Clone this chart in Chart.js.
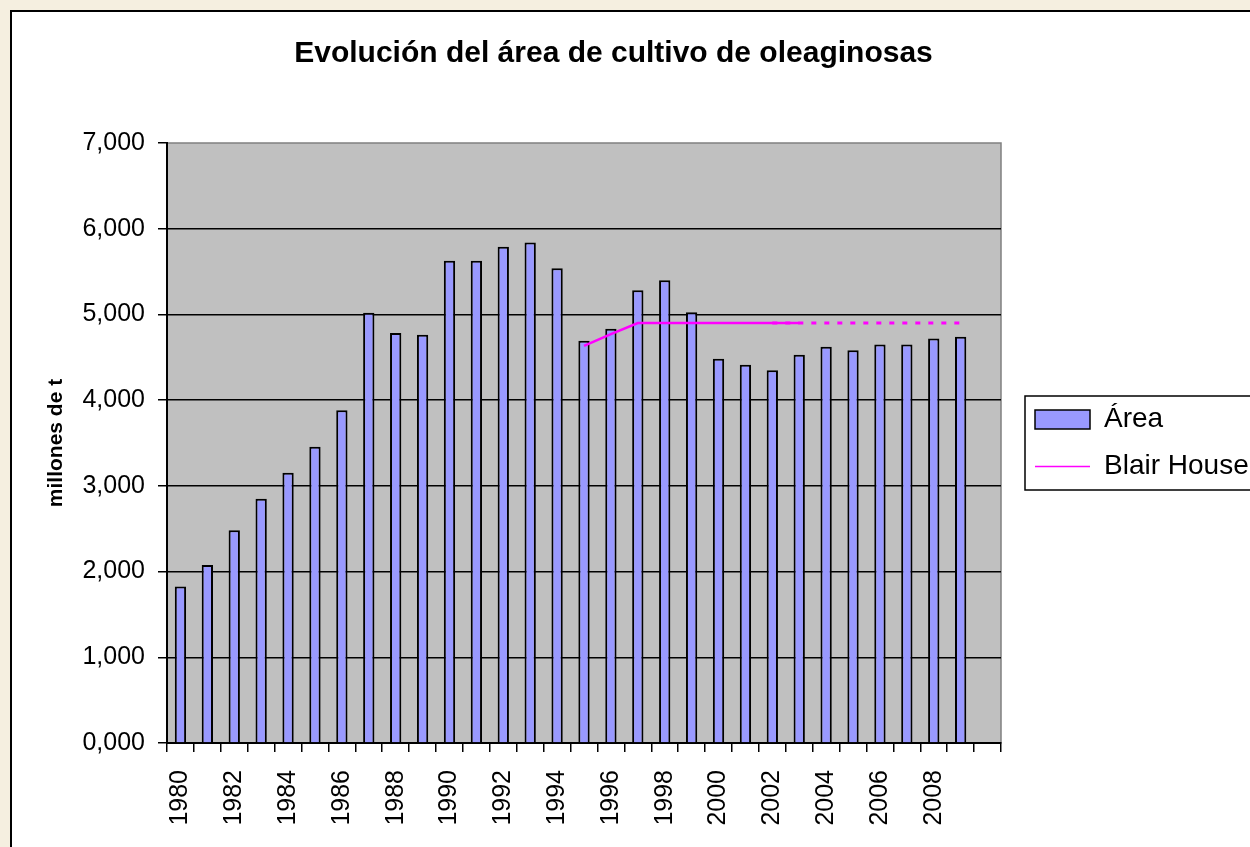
<!DOCTYPE html>
<html>
<head>
<meta charset="utf-8">
<script src="https://cdn.jsdelivr.net/npm/chart.js@4.4.0/dist/chart.umd.min.js"></script>
<style>
html,body{margin:0;padding:0;width:1250px;height:847px;overflow:hidden;background:#F5EFE0;}
#box{position:absolute;left:10px;top:10px;width:1300px;height:900px;background:#fff;border-left:2px solid #000;border-top:2px solid #000;}
#c{position:absolute;left:0;top:0;}
</style>
</head>
<body>
<div id="box"></div>
<canvas id="c" width="1300" height="847"></canvas>
<script>
// ---- data ----
const years = ['1980','1981','1982','1983','1984','1985','1986','1987','1988','1989',
               '1990','1991','1992','1993','1994','1995','1996','1997','1998','1999',
               '2000','2001','2002','2003','2004','2005','2006','2007','2008','2009',''];
const areaValues = [1.825, 2.077, 2.481, 2.851, 3.154, 3.457, 3.881, 5.021, 4.784, 4.764,
                    5.627, 5.627, 5.791, 5.838, 5.538, 4.694, 4.834, 5.282, 5.398, 5.025,
                    4.484, 4.414, 4.348, 4.531, 4.624, 4.582, 4.648, 4.648, 4.718, 4.741, null];
const blairSolid = [null, null, null, null, null, null, null, null, null, null,
                    null, null, null, null, null, 4.632, 4.770, 4.900, 4.900, 4.900,
                    4.900, 4.900, 4.900, 4.900, null, null, null, null, null, null, null];
const blairDotted = [null, null, null, null, null, null, null, null, null, null,
                     null, null, null, null, null, null, null, null, null, null,
                     null, null, 4.900, 4.900, 4.900, 4.900, 4.900, 4.900, 4.900, 4.900, null];
const yTickLabels = ['0,000','1,000','2,000','3,000','4,000','5,000','6,000','7,000'];

const FONT = "'Liberation Sans', Arial, Helvetica, sans-serif";
const LEGEND_W = 226;
const LEGEND_SHIFT = 15;

const framePlugin = {
  id: 'framePlugin',
  beforeLayout(chart) {
    const lg = chart.legend;
    if (lg && !lg._fixedW) {
      const f = lg.fit;
      lg.fit = function () { f.apply(this, arguments); this.width = LEGEND_W; };
      lg._fixedW = true;
    }
  },
  afterLayout(chart) {
    const lg = chart.legend;
    if (lg) { lg.left += LEGEND_SHIFT; lg.right = chart.width; }
  },
  beforeDraw(chart) {
    const {ctx, chartArea: a} = chart;
    ctx.save();
    ctx.fillStyle = '#C0C0C0';
    ctx.fillRect(a.left, a.top, a.right - a.left, a.bottom - a.top);
    ctx.strokeStyle = '#808080';
    ctx.lineWidth = 1.5;
    ctx.strokeRect(a.left, a.top, a.right - a.left, a.bottom - a.top);
    ctx.restore();
  },
  afterDraw(chart) {
    const lg = chart.legend;
    if (!lg || !lg.columnSizes || !lg.columnSizes.length) return;
    const ctx = chart.ctx;
    const pad = lg.options.labels.padding;
    const colH = lg.columnSizes[0].height;
    const y0 = (lg.top + pad + lg.bottom - colH) / 2;
    const x0 = lg.left + pad;
    ctx.save();
    ctx.strokeStyle = '#000';
    ctx.lineWidth = 1.5;
    ctx.strokeRect(x0 - 10, y0 - 9.5, chart.width, colH - pad + 19);
    ctx.restore();
  }
};

new Chart(document.getElementById('c'), {
  type: 'bar',
  data: {
    labels: years,
    datasets: [
      { type: 'bar', label: 'Área', data: areaValues, backgroundColor: '#9999FF',
        borderColor: '#000', borderWidth: 2, barPercentage: 0.42, categoryPercentage: 1, order: 2 },
      { type: 'line', label: 'Blair House', data: blairSolid, borderColor: '#FF00FF',
        backgroundColor: '#FF00FF', borderWidth: 2.5, pointRadius: 0, tension: 0, fill: false, order: 1 },
      { type: 'line', label: 'Blair House (tendencia)', data: blairDotted, borderColor: '#FF00FF',
        backgroundColor: '#FF00FF', borderWidth: 3, borderDash: [5, 8], pointRadius: 0, tension: 0, fill: false, order: 1 }
    ]
  },
  options: {
    responsive: false,
    animation: false,
    layout: { padding: { left: 0, right: 73, top: 0, bottom: 0 } },
    plugins: {
      title: { display: true, text: 'Evolución del área de cultivo de oleaginosas', color: '#000',
               font: { family: FONT, size: 30, weight: 'bold' }, padding: { top: 36, bottom: 71 } },
      legend: {
        position: 'right', align: 'center', fullSize: false,
        labels: {
          font: { family: FONT, size: 28 }, color: '#000',
          usePointStyle: true, pointStyleWidth: 55, boxHeight: 19, padding: 19,
          generateLabels(chart) {
            const items = Chart.defaults.plugins.legend.labels.generateLabels(chart);
            return items.filter(it => it.datasetIndex !== 2)
              .sort((a, b) => a.datasetIndex - b.datasetIndex)
              .map(it => {
                if (it.datasetIndex === 0) { it.pointStyle = 'rect'; it.lineWidth = 1.5; it.fillStyle = '#9999FF'; it.strokeStyle = '#000'; }
                else { it.pointStyle = 'line'; it.lineWidth = 1.5; it.strokeStyle = '#FF00FF'; it.lineDash = []; }
                return it;
              });
          }
        }
      },
      tooltip: { enabled: false }
    },
    scales: {
      x: {
        offset: true,
        grid: { offset: true, drawOnChartArea: false, drawTicks: true, tickLength: 9, color: '#000', tickColor: '#000', lineWidth: 1.5 },
        border: { color: '#000', width: 2 },
        ticks: { autoSkip: false, maxRotation: 90, minRotation: 90, padding: 18, color: '#000',
                 font: { family: FONT, size: 25 },
                 callback(v, i) { return i % 2 === 0 ? years[i] : ''; } },
        afterFit(s) { s.height = 104; }
      },
      y: {
        min: 0, max: 7,
        ticks: { stepSize: 1, padding: 13, color: '#000', font: { family: FONT, size: 25 },
                 callback(v, i) { return yTickLabels[i]; } },
        grid: { color(c) { return (c.tick && c.tick.value === 7) ? 'rgba(0,0,0,0)' : '#000'; },
                tickColor: '#000', lineWidth: 1.5, tickLength: 9, drawTicks: true },
        border: { color: '#000', width: 2 },
        title: { display: true, text: 'millones de t', color: '#000',
                 font: { family: FONT, size: 21, weight: 'bold' }, padding: { top: 44, bottom: 0 } },
        afterFit(s) { s.width = 167; }
      }
    }
  },
  plugins: [framePlugin]
});
</script>
</body>
</html>
